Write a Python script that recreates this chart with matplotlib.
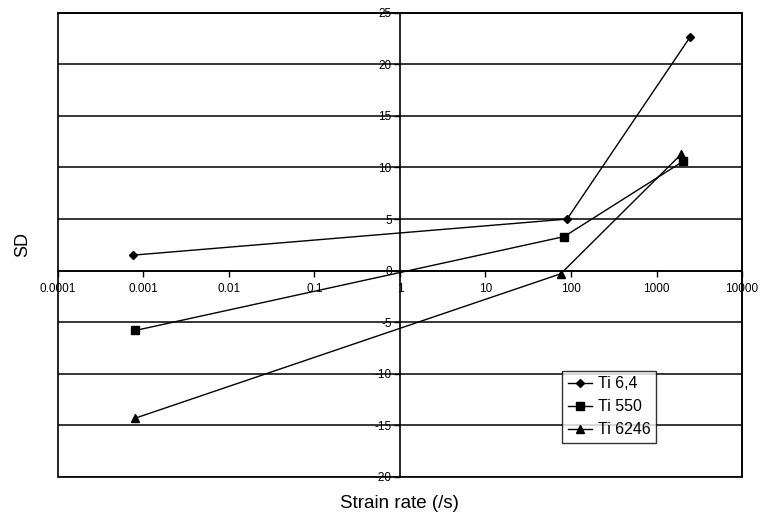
import matplotlib
matplotlib.use('Agg')
import matplotlib.pyplot as plt
from matplotlib.patches import Rectangle

plt.rcParams['font.family'] = ['Liberation Sans', 'DejaVu Sans']

# data
strain_rate_64 = [0.00075, 90, 2450]
sd_64 = [1.5, 5.0, 22.6]
strain_rate_550 = [0.0008, 83, 2050]
sd_550 = [-5.8, 3.3, 10.6]
strain_rate_6246 = [0.0008, 76, 1950]
sd_6246 = [-14.3, -0.3, 11.3]

series_names = ['Ti 6,4', 'Ti 550', 'Ti 6246']
x_ticks = [0.0001, 0.001, 0.01, 0.1, 1, 10, 100, 1000, 10000]
x_tick_labels = ['0.0001', '0.001', '0.01', '0.1', '1', '10', '100', '1000', '10000']
y_ticks = [-20, -15, -10, -5, 0, 5, 10, 15, 20, 25]

fig = plt.figure(figsize=(7.71, 5.15), dpi=100)
ax = fig.add_axes([0.0752, 0.0738, 0.8872, 0.9015])

ax.plot(strain_rate_64, sd_64, color='black', lw=1, marker='D', ms=4, label=series_names[0])
ax.plot(strain_rate_550, sd_550, color='black', lw=1, marker='s', ms=5.5, label=series_names[1])
ax.plot(strain_rate_6246, sd_6246, color='black', lw=1, marker='^', ms=6, label=series_names[2])

ax.set_xscale('log')
ax.set_xlim(0.0001, 10000)
ax.set_ylim(-20, 25)
ax.set_xticks(x_ticks)
ax.set_xticklabels(x_tick_labels)
ax.minorticks_off()
ax.set_yticks(y_ticks)
ax.set_yticklabels([str(v) for v in y_ticks])

# axes cross at x=1, y=0
ax.spines['left'].set_position(('data', 1))
ax.spines['bottom'].set_position(('data', 0))
for s in ax.spines.values():
    s.set_linewidth(1.2)
ax.add_patch(Rectangle((0, 0), 1, 1, transform=ax.transAxes, fill=False,
                       edgecolor='black', lw=1.2, clip_on=False, zorder=3))

ax.yaxis.grid(True, color='black', lw=1.1)
ax.set_axisbelow(True)
ax.tick_params(axis='both', direction='out', length=4, width=1, labelsize=8.5, colors='black')
ax.tick_params(axis='y', pad=2)
ax.tick_params(axis='x', pad=5)

fig.text(0.03, 0.526, 'SD', rotation=90, fontsize=13, ha='center', va='center')
fig.text(0.518, 0.023, 'Strain rate (/s)', fontsize=13.5, ha='center', va='center')

leg = ax.legend(loc='upper left', bbox_to_anchor=(0.737, 0.229), borderaxespad=0,
                fontsize=11.5, frameon=True, fancybox=False, shadow=False,
                handlelength=1.5, handletextpad=0.4, borderpad=0.35, labelspacing=0.5)
leg.get_frame().set_edgecolor('black')
leg.get_frame().set_linewidth(1)

fig.savefig('out.png', dpi=100)
